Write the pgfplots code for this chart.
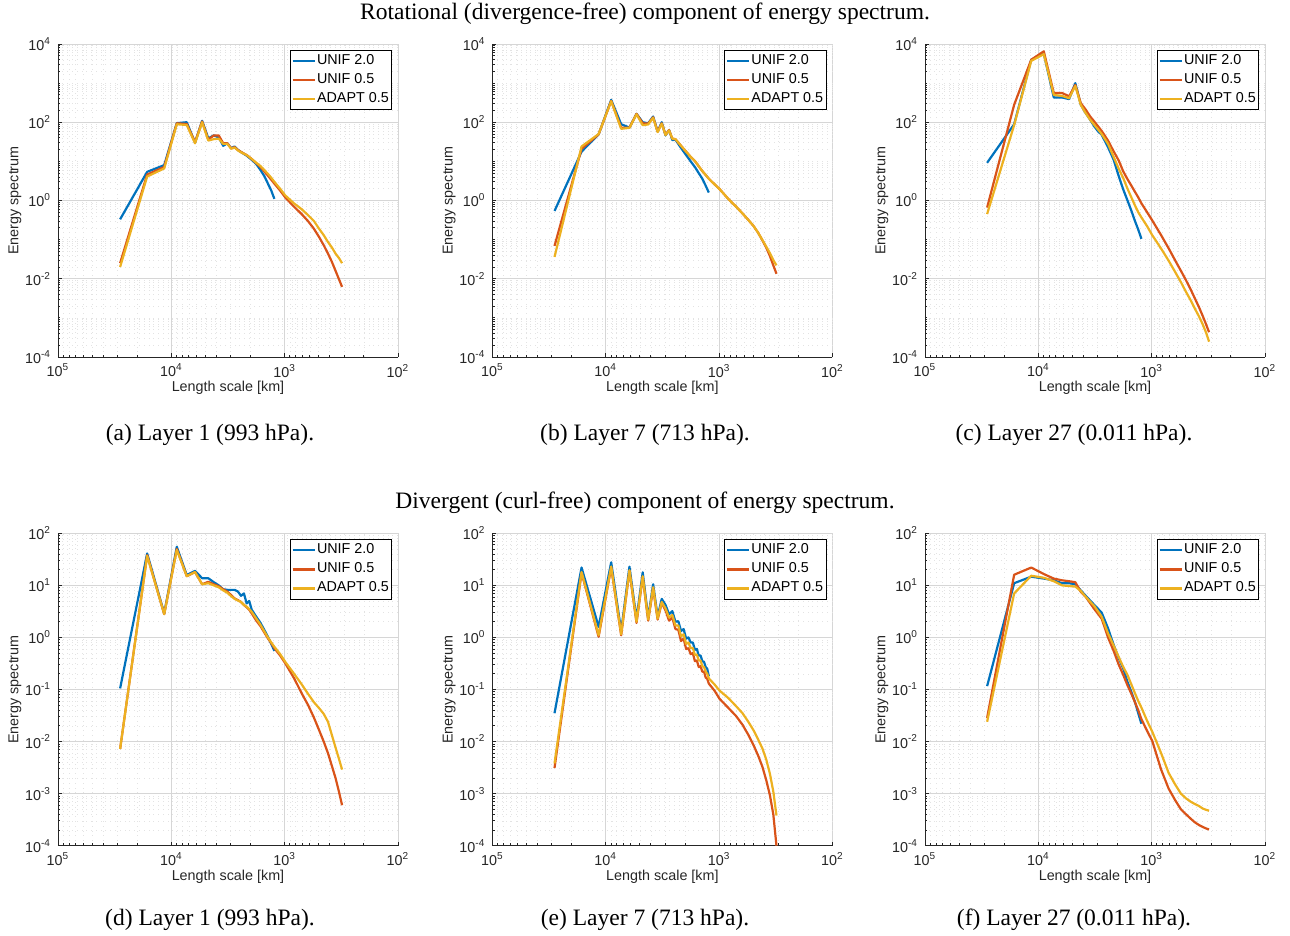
\documentclass[border=0pt]{standalone}
\usepackage{fontspec}
\setmainfont{Liberation Sans}
\newfontfamily\capfont{Liberation Serif}
\usepackage{pgfplots}
\usepackage{pgfplotstable}
\pgfplotsset{compat=1.18}

\definecolor{mblue}{rgb}{0,0.447,0.741}
\definecolor{morange}{rgb}{0.85,0.325,0.098}
\definecolor{myellow}{rgb}{0.929,0.694,0.125}

\newcommand{\tf}{\fontsize{7.2}{8}\selectfont}
\newcommand{\cf}{\capfont\fontsize{11.8}{14}\selectfont}

% settings shared by all six panels
\pgfplotsset{
  scale only axis, width=170bp,
  x dir=reverse,
  xmin=100, xmax=100000,
  xtick={100,1000,10000,100000},
  xticklabels={10\textsuperscript{2},10\textsuperscript{3},10\textsuperscript{4},10\textsuperscript{5}},
  minor xtick={200,300,400,500,600,700,800,900,2000,3000,4000,5000,6000,7000,8000,9000,20000,30000,40000,50000,60000,70000,80000,90000},
  axis x line*=bottom, axis y line*=left,
  axis line style={black!85, line width=0.4bp},
  tick align=inside, major tick length=2bp, minor tick length=1.2bp,
  tick style={black!85, line width=0.4bp},
  xmajorgrids, ymajorgrids, xminorgrids, yminorgrids,
  major grid style={black!16, line width=0.4bp},
  minor grid style={black!11, dotted, line width=0.3bp},
  ticklabel style={font=\tf, text=black!85},
  label style={font=\tf, text=black!85},
  xlabel style={at={(axis description cs:0.5,-0.099)}, anchor=center},
  ylabel style={at={(axis description cs:-0.127,0.5)}, anchor=center},
  legend style={at={(1,1)}, anchor=north east, xshift=-3bp, yshift=-3bp,
    draw=black, fill=white, font=\tf, inner xsep=0.8bp, inner ysep=0.6bp,
    nodes={inner xsep=0.6bp, inner ysep=1.5bp}, cells={anchor=west}, row sep=0pt},
  legend image code/.code={\draw[#1] (0bp,0bp) -- (11bp,0bp);},
  every axis plot/.append style={line width=1.1bp, line join=round},
}
\pgfplotsset{
  toprow/.style={height=156.5bp, ymin=1e-4, ymax=1e4,
    ytick={1e-4,1e-2,1,100,10000},
    yticklabels={10\textsuperscript{-4},10\textsuperscript{-2},10\textsuperscript{0},10\textsuperscript{2},10\textsuperscript{4}},
    minor ytick={2e-4,3e-4,4e-4,5e-4,6e-4,7e-4,8e-4,9e-4,1e-3,2e-3,3e-3,4e-3,5e-3,6e-3,7e-3,8e-3,9e-3,2e-2,3e-2,4e-2,5e-2,6e-2,7e-2,8e-2,9e-2,0.1,0.2,0.3,0.4,0.5,0.6,0.7,0.8,0.9,2,3,4,5,6,7,8,9,10,20,30,40,50,60,70,80,90,200,300,400,500,600,700,800,900,1000,2000,3000,4000,5000,6000,7000,8000,9000}},
  botrow/.style={height=156.2bp, ymin=1e-4, ymax=100,
    ytick={1e-4,1e-3,1e-2,0.1,1,10,100},
    yticklabels={10\textsuperscript{-4},10\textsuperscript{-3},10\textsuperscript{-2},10\textsuperscript{-1},10\textsuperscript{0},10\textsuperscript{1},10\textsuperscript{2}},
    minor ytick={2e-4,3e-4,4e-4,5e-4,6e-4,7e-4,8e-4,9e-4,2e-3,3e-3,4e-3,5e-3,6e-3,7e-3,8e-3,9e-3,2e-2,3e-2,4e-2,5e-2,6e-2,7e-2,8e-2,9e-2,0.2,0.3,0.4,0.5,0.6,0.7,0.8,0.9,2,3,4,5,6,7,8,9,20,30,40,50,60,70,80,90}},
}

% columns: length scale [km], UNIF 2.0, UNIF 0.5, ADAPT 0.5
\pgfplotstableread{
L b o y
28306 0.33 0.025 0.020
16342 5.4 4.6 4.1
11556 8.0 7.2 6.6
8951 95 94 89
7308 100 90 85
6177 30 31 29
5349 109 105 100
4718 39 36 34
4220 46 46 37
3817 41 46 38
3484 25 29 28
3205 29 29 28
2967 21.7 21.7 21
2762 24 23 22.5
2584 19.7 19.5 19
2427 17.2 17.5 17
2165 14 14.5 14.5
1953 11 11.5 11.5
1780 8.5 9 9.2
1634 6.0 7.2 7.6
1511 4.2 5.5 6.0
1405 2.7 4.3 4.8
1313 1.8 3.4 3.8
1232 1.1 2.7 3.0
1097 nan 1.8 2.0
988.5 nan 1.2 1.35
825.4 nan 0.69 0.84
708.5 nan 0.45 0.6
620.6 nan 0.295 0.42
552.2 nan 0.19 0.3
497.3 nan 0.117 0.19
452.3 nan 0.072 0.13
414.8 nan 0.044 0.087
383.1 nan 0.027 0.063
355.8 nan 0.016 0.044
332.2 nan 0.0098 0.034
311.5 nan 0.0062 0.025
}\tabA

\pgfplotstableread{
L b o y
28306 0.54 0.069 0.036
16342 17.7 21 24
11556 49 49 50
8951 374 352 345
7308 89 72 68
6177 73 73 72
5349 164 164 160
4718 100 94 84
4220 94 92 88
3817 140 134 130
3484 58 58 56
3205 100 94 92
2967 46 48 47
2762 63 63 62
2584 35 38 38
2427 36 37 37
2165 22 25 25
1953 14.5 17.7 17.7
1780 10 13 13
1634 7.2 10.2 10.2
1511 5.0 7.5 7.5
1405 3.6 5.65 5.65
1313 2.4 4.5 4.5
1232 1.6 3.6 3.6
1097 nan 2.6 2.6
988.5 nan 1.95 1.95
825.4 nan 1.08 1.08
708.5 nan 0.7 0.7
620.6 nan 0.465 0.465
552.2 nan 0.32 0.32
497.3 nan 0.224 0.224
452.3 nan 0.15 0.15
414.8 nan 0.096 0.098
383.1 nan 0.062 0.066
355.8 nan 0.038 0.045
332.2 nan 0.022 0.03
311.5 nan 0.0134 0.022
}\tabB

\pgfplotstableread{
L b o y
28306 9.2 0.66 0.45
16342 89 280 85
11556 3960 3960 3700
8951 5650 6500 5500
7308 430 556 500
6177 430 560 470
5349 390 460 410
4718 1000 900 850
4220 280 307 277
3817 171 209 170
3484 115 140 115
3205 78 104 85
2967 58 78 65
2762 48 60 50
2427 23 34 28
2165 11 18 13
1953 4.2 10.5 6.5
1780 1.9 5.5 3.7
1634 1.0 3.5 2.0
1511 0.55 2.4 1.2
1405 0.3 1.67 0.75
1313 0.18 1.2 0.5
1232 0.105 0.85 0.37
1097 nan 0.5 0.22
988.5 nan 0.31 0.13
825.4 nan 0.13 0.059
708.5 nan 0.06 0.029
620.6 nan 0.0295 0.0149
552.2 nan 0.016 0.0082
497.3 nan 0.0091 0.0046
452.3 nan 0.0053 0.0028
414.8 nan 0.0031 0.0017
383.1 nan 0.0019 0.0011
355.8 nan 0.00115 0.0007
332.2 nan 0.0007 0.00043
311.5 nan 0.00043 0.000246
}\tabC

\pgfplotstableread{
L b o y
28306 0.105 0.0072 0.0072
16342 41 38 37
11556 2.9 2.8 2.8
8951 55 50 48
7308 15.8 15 15
6177 19 18 18
5349 13.7 10.5 10.5
4718 13.7 11.7 11
4220 11.5 10.5 10
3817 10 9.6 9.2
3484 8.4 8.4 8.0
3205 8.2 7.6 7.2
2967 8.2 6.5 6.2
2762 8.2 5.6 5.5
2584 7.6 5.2 5.1
2427 6.3 4.8 4.8
2288 7.0 4.2 4.2
2165 4.5 3.8 3.9
2054 5.0 3.4 3.5
1953 3.4 2.9 3.1
1780 2.5 2.1 2.3
1634 1.9 1.65 1.75
1511 1.39 1.24 1.3
1405 1.03 0.96 1.0
1313 0.75 0.78 0.8
1232 0.55 0.62 0.66
1097 nan 0.45 0.48
988.5 nan 0.32 0.34
825.4 nan 0.164 0.2
708.5 nan 0.085 0.126
620.6 nan 0.05 0.082
552.2 nan 0.029 0.057
497.3 nan 0.0167 0.044
452.3 nan 0.01 0.034
414.8 nan 0.006 0.024
383.1 nan 0.0034 0.0133
355.8 nan 0.002 0.0077
332.2 nan 0.0011 0.0047
311.5 nan 0.0006 0.0029
}\tabD

\pgfplotstableread{
L b o y
28306 0.035 0.0031 0.0038
16342 22 17.5 18
11556 1.6 1.03 1.1
8951 27.7 22 23
7308 1.33 1.1 1.15
6177 22.9 19 19.5
5349 2.26 1.9 2.0
4718 17.8 14.5 15
4220 2.4 2.1 2.2
3817 10.5 8.8 9.2
3484 2.5 2.2 2.3
3205 5.5 4.6 4.8
2967 4.2 3.3 3.6
2762 2.8 2.1 2.4
2584 3.2 2.4 2.7
2427 2.0 1.45 1.7
2288 2.05 1.4 1.7
2165 1.33 0.85 1.05
2054 1.45 0.95 1.15
1953 0.95 0.6 0.75
1862 1.0 0.62 0.8
1780 0.8 0.48 0.62
1704 0.8 0.5 0.63
1634 0.58 0.35 0.46
1570 0.6 0.36 0.47
1511 0.45 0.27 0.36
1456 0.45 0.28 0.36
1405 0.35 0.22 0.28
1357 0.34 0.22 0.27
1313 0.27 0.17 0.22
1271 0.25 0.16 0.2
1232 0.18 0.13 0.164
1097 nan 0.095 0.125
988.5 nan 0.066 0.095
825.4 nan 0.044 0.068
708.5 nan 0.031 0.048
620.6 nan 0.021 0.035
552.2 nan 0.0135 0.024
497.3 nan 0.0086 0.0166
452.3 nan 0.0054 0.011
414.8 nan 0.0033 0.0074
383.1 nan 0.0018 0.0045
355.8 nan 0.00093 0.0024
332.2 nan 0.0004 0.0011
311.5 nan 0.0001 0.00038
}\tabE

\pgfplotstableread{
L b o y
28306 0.116 0.0285 0.024
16342 11 16 7.0
11556 14.7 22 15.3
8951 13.5 16.5 14
7308 12.5 13.5 12
6177 11 12.5 10
5349 11 12 9.7
4718 10.5 11.5 9.5
4220 8 7.5 7.8
3817 6.3 6 6.0
3205 4.2 3.5 4.0
2762 3.0 2.3 2.5
2427 1.5 1.0 1.2
2165 0.72 0.55 0.7
1953 0.4 0.3 0.42
1780 0.25 0.19 0.27
1634 0.14 0.12 0.19
1511 0.09 0.083 0.125
1405 0.058 0.057 0.085
1313 0.035 0.04 0.06
1232 0.022 0.027 0.045
1097 nan 0.016 0.025
988.5 nan 0.0103 0.0155
825.4 nan 0.0029 0.006
708.5 nan 0.00125 0.0025
620.6 nan 0.00075 0.0015
552.2 nan 0.0005 0.001
497.3 nan 0.0004 0.00081
452.3 nan 0.00033 0.0007
414.8 nan 0.00028 0.00063
383.1 nan 0.00025 0.00058
355.8 nan 0.00023 0.00052
332.2 nan 0.000215 0.00049
311.5 nan 0.000205 0.00047
}\tabF

\begin{document}
\begin{tikzpicture}
\useasboundingbox (0,0) rectangle (645bp,468bp);

\node[font=\cf] at (322.5bp,461bp) {Rotational (divergence-free) component of energy spectrum.};
\node[font=\cf] at (322.5bp,216.5bp) {Divergent (curl-free) component of energy spectrum.};

\node[font=\cf] at (105bp,250.5bp) {(a) Layer 1 (993 hPa).};
\node[font=\cf] at (322.5bp,250.5bp) {(b) Layer 7 (713 hPa).};
\node[font=\cf] at (537bp,250.5bp) {(c) Layer 27 (0.011 hPa).};
\node[font=\cf] at (105bp,8bp) {(d) Layer 1 (993 hPa).};
\node[font=\cf] at (322.5bp,8bp) {(e) Layer 7 (713 hPa).};
\node[font=\cf] at (537bp,8bp) {(f) Layer 27 (0.011 hPa).};

\begin{loglogaxis}[toprow, at={(29bp,289.5bp)}, anchor=south west,
  xlabel={Length scale [km]}, ylabel={Energy spectrum}]
\addplot[mblue] table[x=L,y=b] {\tabA};
\addplot[morange] table[x=L,y=o] {\tabA};
\addplot[myellow] table[x=L,y=y] {\tabA};
\legend{UNIF 2.0,UNIF 0.5,ADAPT 0.5}
\end{loglogaxis}

\begin{loglogaxis}[toprow, at={(246.2bp,289.5bp)}, anchor=south west,
  xlabel={Length scale [km]}, ylabel={Energy spectrum}]
\addplot[mblue] table[x=L,y=b] {\tabB};
\addplot[morange] table[x=L,y=o] {\tabB};
\addplot[myellow] table[x=L,y=y] {\tabB};
\legend{UNIF 2.0,UNIF 0.5,ADAPT 0.5}
\end{loglogaxis}

\begin{loglogaxis}[toprow, at={(462.5bp,289.5bp)}, anchor=south west,
  xlabel={Length scale [km]}, ylabel={Energy spectrum}]
\addplot[mblue] table[x=L,y=b] {\tabC};
\addplot[morange] table[x=L,y=o] {\tabC};
\addplot[myellow] table[x=L,y=y] {\tabC};
\legend{UNIF 2.0,UNIF 0.5,ADAPT 0.5}
\end{loglogaxis}

\begin{loglogaxis}[botrow, at={(29bp,45.15bp)}, anchor=south west,
  xlabel={Length scale [km]}, ylabel={Energy spectrum}]
\addplot[mblue] table[x=L,y=b] {\tabD};
\addplot[morange] table[x=L,y=o] {\tabD};
\addplot[myellow] table[x=L,y=y] {\tabD};
\legend{UNIF 2.0,UNIF 0.5,ADAPT 0.5}
\end{loglogaxis}

\begin{loglogaxis}[botrow, at={(246.2bp,45.15bp)}, anchor=south west,
  xlabel={Length scale [km]}, ylabel={Energy spectrum}]
\addplot[mblue] table[x=L,y=b] {\tabE};
\addplot[morange] table[x=L,y=o] {\tabE};
\addplot[myellow] table[x=L,y=y] {\tabE};
\legend{UNIF 2.0,UNIF 0.5,ADAPT 0.5}
\end{loglogaxis}

\begin{loglogaxis}[botrow, at={(462.5bp,45.15bp)}, anchor=south west,
  xlabel={Length scale [km]}, ylabel={Energy spectrum}]
\addplot[mblue] table[x=L,y=b] {\tabF};
\addplot[morange] table[x=L,y=o] {\tabF};
\addplot[myellow] table[x=L,y=y] {\tabF};
\legend{UNIF 2.0,UNIF 0.5,ADAPT 0.5}
\end{loglogaxis}
\end{tikzpicture}
\end{document}
